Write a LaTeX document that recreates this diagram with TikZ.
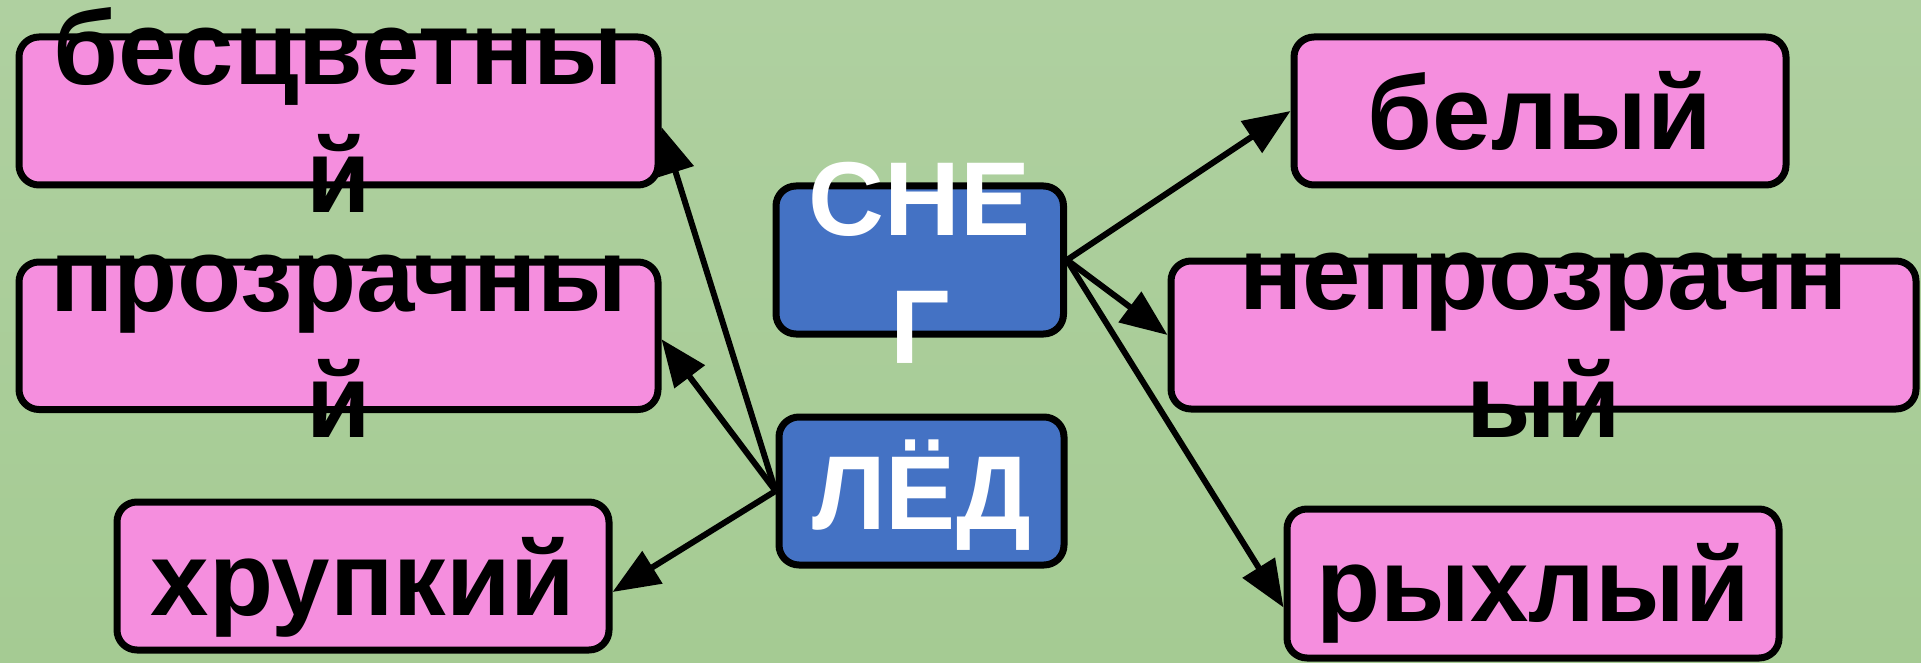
\documentclass[tikz,border=0pt]{standalone}
\usepackage{fontspec}
\setmainfont{Liberation Sans}
\usetikzlibrary{arrows.meta}
\definecolor{bgtop}{RGB}{175,208,160}
\definecolor{bgbot}{RGB}{165,203,147}
\definecolor{pinkbox}{RGB}{245,142,222}
\definecolor{bluebox}{RGB}{68,114,196}
\begin{document}
\begin{tikzpicture}[x=1pt,y=-1pt,
  box/.style={draw=black, line width=7pt, rounded corners=20pt, inner sep=0pt},
  pbox/.style={box, fill=pinkbox},
  bbox/.style={box, fill=bluebox},
  lbl/.style={anchor=base, inner sep=0pt, font=\bfseries\fontsize{105}{126}\selectfont},
  wlbl/.style={lbl, text=white},
  conn/.style={line width=6pt, -{Triangle[length=47pt,width=37pt]}}
]
\useasboundingbox (0,0) rectangle (1921,663);
\shade[top color=bgtop, bottom color=bgbot] (0,0) rectangle (1921,663);

% boxes
\node[pbox, minimum width=639pt, minimum height=148pt] (A) at (338.5,111) {};
\node[pbox, minimum width=639pt, minimum height=147.5pt] (B) at (338.5,335.75) {};
\node[pbox, minimum width=492pt, minimum height=148pt] (C) at (363,576) {};
\node[bbox, minimum width=287.5pt, minimum height=148pt] (S) at (919.75,260) {};
\node[bbox, minimum width=285pt, minimum height=148pt] (L) at (921.5,491) {};
\node[pbox, minimum width=492pt, minimum height=148pt] (W) at (1540,111) {};
\node[pbox, minimum width=745pt, minimum height=148pt] (N) at (1543.5,335) {};
\node[pbox, minimum width=492pt, minimum height=149pt] (R) at (1533,583.5) {};

% connectors
\draw[conn] (L.west) -- ([yshift=-16pt]A.east);
\draw[conn] (L.west) -- ([yshift=-3.5pt]B.east);
\draw[conn] (L.west) -- ([yshift=-16pt]C.east);
\draw[conn] (S.east) -- (W.west);
\draw[conn] (S.east) -- (N.west);
\draw[conn] (S.east) -- ([yshift=-24pt]R.west);

% texts
\node[lbl] (A1) at (338.5,85) {бесцветны};
\node[lbl] (A2) at (338.5,212) {й};
\node[lbl] (B1) at (338.5,311) {прозрачны};
\node[lbl] (B2) at (338.5,437) {й};
\node[lbl] (C1) at (363,615) {хрупкий};
\node[wlbl] (S1) at (919.75,235) {СНЕ};
\node[wlbl] (S2) at (919.75,363) {Г};
\node[wlbl] (L1) at (921.5,529) {ЛЁД};
\node[lbl] (W1) at (1540,150) {белый};
\node[lbl] (N1) at (1543.5,309) {непрозрачн};
\node[lbl] (N2) at (1543.5,437) {ый};
\node[lbl] (R1) at (1533,621) {рыхлый};
\end{tikzpicture}
\end{document}
